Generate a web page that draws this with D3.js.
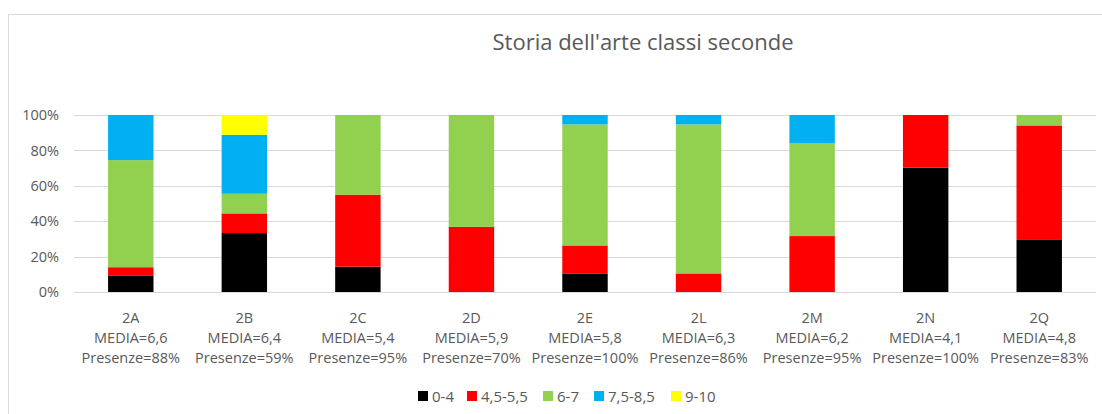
<!DOCTYPE html>
<html>
<head>
<meta charset="utf-8">
<script src="https://cdn.jsdelivr.net/npm/d3@7"></script>
<style>
  html, body { margin: 0; padding: 0; background: #fff; }
  svg { display: block; }
  text { font-family: "Open Sans", "Noto Sans", sans-serif; fill: #595959; }
</style>
</head>
<body>
<svg id="chart" width="1102" height="414"></svg>
<script>
// ---- data ----
const title = "Storia dell'arte classi seconde";
const classes = ["2A", "2B", "2C", "2D", "2E", "2L", "2M", "2N", "2Q"];
const medie = ["6,6", "6,4", "5,4", "5,9", "5,8", "6,3", "6,2", "4,1", "4,8"];
const presenze = ["88%", "59%", "95%", "70%", "100%", "86%", "95%", "100%", "83%"];
const seriesNames = ["0-4", "4,5-5,5", "6-7", "7,5-8,5", "9-10"];
const seriesColors = ["#000000", "#ff0000", "#92d050", "#00b0f0", "#ffff00"];
const s04   = [9.1, 33.3, 14.3, 0,    10.5, 0,    0,    70.2, 29.4];
const s455  = [4.9, 11.1, 40.7, 36.8, 15.8, 10.5, 31.6, 29.8, 64.7];
const s67   = [60.5, 11.1, 45.0, 63.2, 68.4, 84.2, 52.6, 0,   5.9];
const s7585 = [25.5, 33.3, 0,   0,    5.3,  5.3,  15.8, 0,    0];
const s910  = [0,   11.2, 0,    0,    0,    0,    0,    0,    0];
const yTicks = [0, 20, 40, 60, 80, 100];

const seriesValues = [s04, s455, s67, s7585, s910];
const rows = classes.map((c, i) => {
  const r = { cls: c };
  seriesNames.forEach((s, j) => r[s] = seriesValues[j][i]);
  return r;
});
const stacked = d3.stack().keys(seriesNames)(rows);

const svg = d3.select("#chart");
const W = 1102, H = 414;

// chart border
svg.append("rect").attr("x", 8.5).attr("y", 14.5).attr("width", W).attr("height", H)
  .attr("fill", "none").attr("stroke", "#d9d9d9").attr("stroke-width", 1);

const x = d3.scaleBand().domain(classes).range([74, 1096]).paddingInner(0.6).paddingOuter(0.3);
const y = d3.scaleLinear().domain([0, 100]).range([292, 115]);

// title
svg.append("text").attr("x", 643).attr("y", 50).attr("text-anchor", "middle")
  .style("font-size", "22px").text(title);

// gridlines
svg.append("g").selectAll("line").data(yTicks).join("line")
  .attr("x1", 74).attr("x2", 1096)
  .attr("y1", d => Math.round(y(d)) + 0.5).attr("y2", d => Math.round(y(d)) + 0.5)
  .attr("stroke", "#d9d9d9").attr("stroke-width", 1);

// y axis labels
const yAxis = d3.axisLeft(y).tickValues(yTicks).tickFormat(d => d + "%").tickSize(0).tickPadding(0);
const gy = svg.append("g").attr("transform", "translate(59,0)").call(yAxis);
gy.select(".domain").remove();
gy.selectAll("text").style("font-size", "14.5px").style("font-family", "'Open Sans', sans-serif").attr("fill", "#595959");

// bars
svg.append("g").selectAll("g").data(stacked).join("g")
  .attr("fill", (d, i) => seriesColors[i])
  .selectAll("rect").data(d => d).join("rect")
  .attr("x", d => x(d.data.cls))
  .attr("width", x.bandwidth())
  .attr("y", d => y(d[1]))
  .attr("height", d => y(d[0]) - y(d[1]));

// x category labels (3 lines)
const xl = svg.append("g").selectAll("text").data(classes).join("text")
  .attr("text-anchor", "middle")
  .style("font-size", "14.5px")
  .attr("x", d => x(d) + x.bandwidth() / 2);
xl.append("tspan").attr("x", d => x(d) + x.bandwidth() / 2).attr("y", 323).text(d => d);
xl.append("tspan").attr("x", d => x(d) + x.bandwidth() / 2).attr("y", 343).text((d, i) => "MEDIA=" + medie[i]);
xl.append("tspan").attr("x", d => x(d) + x.bandwidth() / 2).attr("y", 363).text((d, i) => "Presenze=" + presenze[i]);

// legend
const legendX = [418, 467, 543, 594, 671];
const lg = svg.append("g").selectAll("g").data(seriesNames).join("g")
  .attr("transform", (d, i) => `translate(${legendX[i]},391)`);
lg.append("rect").attr("width", 10).attr("height", 10).attr("fill", (d, i) => seriesColors[i]);
lg.append("text").attr("x", 14).attr("y", 10.5).style("font-size", "15px").text(d => d);
</script>
</body>
</html>
